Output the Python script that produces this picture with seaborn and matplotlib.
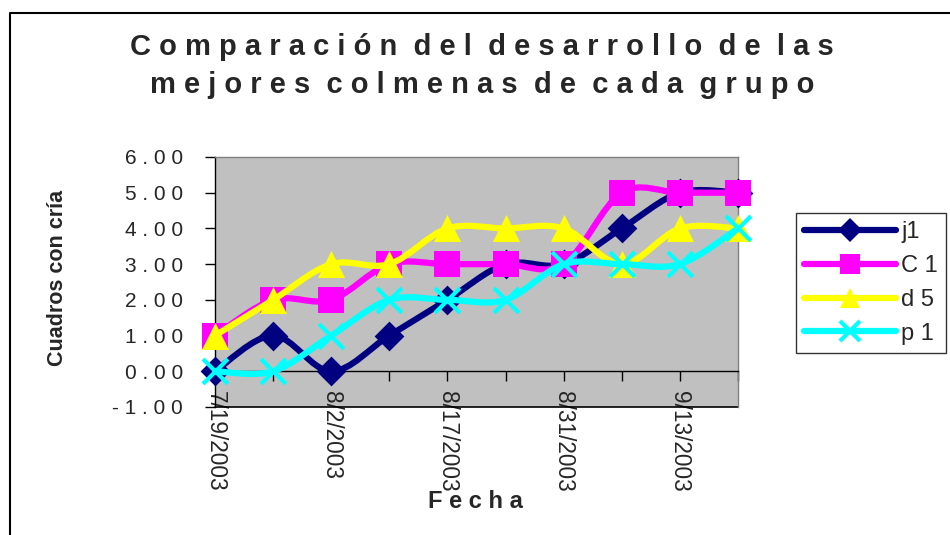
import numpy as np
import pandas as pd
import seaborn as sns
import matplotlib.pyplot as plt
from matplotlib.path import Path
from matplotlib.patches import PathPatch
from matplotlib.lines import Line2D
from matplotlib.ticker import FuncFormatter

# data
fechas = ["7/19/2003", "7/26/2003", "8/2/2003", "8/9/2003", "8/17/2003",
          "8/24/2003", "8/31/2003", "9/6/2003", "9/13/2003", "9/20/2003"]
series = ["j1", "C 1", "d 5", "p 1"]
j1 = [0, 1, 0, 1, 2, 3, 3, 4, 5, 5]
c1 = [1, 2, 2, 3, 3, 3, 3, 5, 5, 5]
d5 = [1, 2, 3, 3, 4, 4, 4, 3, 4, 4]
p1 = [0, 0, 1, 2, 2, 2, 3, 3, 3, 4]

colors = ["#000080", "#FF00FF", "#FFFF00", "#00FFFF"]
markers = ["D", "s", "^", "x"]
msizes = [230, 360, 380, 320]

df = pd.DataFrame({"idx": list(range(len(fechas))) * 4,
                   "fecha": fechas * 4,
                   "serie": np.repeat(series, len(fechas)),
                   "valor": j1 + c1 + d5 + p1})

sns.set_theme(style="white")
plt.rcParams["font.family"] = ["Liberation Sans", "DejaVu Sans"]

fig = plt.figure(figsize=(9.5, 5.35), dpi=100)
ax = fig.add_axes([215 / 950, 1 - 407 / 535, 523 / 950, 250 / 535])
ax.set_facecolor("#C0C0C0")
# category axis crosses at 0 (set before ticks, it resets them)
ax.spines["bottom"].set_position(("data", 0))


def smooth_path(xs, ys):
    # excel-style smoothed line drawn as cubic bezier segments
    pts = np.column_stack([xs, ys]).astype(float)
    n = len(pts)
    verts, codes = [pts[0]], [Path.MOVETO]
    for i in range(n - 1):
        p0 = pts[i - 1] if i > 0 else pts[i]
        p3 = pts[i + 2] if i + 2 < n else pts[i + 1]
        verts += [pts[i] + (pts[i + 1] - p0) / 6,
                  pts[i + 1] - (p3 - pts[i]) / 6,
                  pts[i + 1]]
        codes += [Path.CURVE4] * 3
    return Path(verts, codes)


for k, name in enumerate(series):
    sub = df[df["serie"] == name]
    ax.add_patch(PathPatch(smooth_path(sub["idx"], sub["valor"]), fill=False,
                           edgecolor=colors[k], lw=4.5, capstyle="round",
                           joinstyle="round", zorder=3 + 2 * k))
    kw = dict(linewidth=3) if markers[k] == "x" else dict(linewidth=0)
    sns.scatterplot(data=sub, x="idx", y="valor", ax=ax, marker=markers[k],
                    color=colors[k], s=msizes[k], legend=False,
                    zorder=4 + 2 * k, clip_on=False, **kw)

ax.set_xlim(0, len(fechas) - 1)
ax.set_ylim(-1, 6)
ax.set_yticks(range(-1, 7))
ax.yaxis.set_major_formatter(FuncFormatter(lambda v, p: " ".join(f"{v:.2f}")))
ax.set_xticks(range(len(fechas)))
ax.set_xticklabels([f if i % 2 == 0 else "" for i, f in enumerate(fechas)],
                   rotation=270, va="top", ha="center")
ax.set_xlabel("")
ax.set_ylabel("")

for s in ["top", "right"]:
    ax.spines[s].set_color("#808080")
    ax.spines[s].set_linewidth(1)
for s in ["left", "bottom"]:
    ax.spines[s].set_color("black")
    ax.spines[s].set_linewidth(1)
ax.axhline(-1, color="black", lw=1.2, clip_on=False, zorder=2)

ax.tick_params(axis="y", direction="out", length=7, width=1, color="black",
               labelsize=15, pad=16, left=True)
ax.tick_params(axis="x", direction="out", length=7, width=1, color="black",
               labelsize=16.3, pad=7, bottom=True)

fig.text(482 / 950, 1 - 47 / 535,
         "C o m p a r a c i ó n  d e l  d e s a r r o l l o  d e  l a s",
         ha="center", va="center", fontsize=21, fontweight="bold")
fig.text(482 / 950, 1 - 85 / 535,
         "m e j o r e s  c o l m e n a s  d e  c a d a  g r u p o",
         ha="center", va="center", fontsize=21, fontweight="bold")
fig.text(58 / 950, 1 - 278 / 535, "Cuadros con cría", rotation=90,
         ha="center", va="center", fontsize=15.5, fontweight="bold")
fig.text(475 / 950, 1 - 502 / 535, "F e c h a", ha="center", va="center",
         fontsize=17, fontweight="bold")

# chart border (only top and left visible in the crop)
fig.add_artist(Line2D([9.5 / 950, 9.5 / 950, 1], [0, 1 - 13 / 535, 1 - 13 / 535],
                      transform=fig.transFigure, color="black", lw=1.5))

handles = [Line2D([], [], color=colors[k], lw=4.5, marker=markers[k],
                  markersize=15 if markers[k] != "D" else 12,
                  markeredgewidth=3 if markers[k] == "x" else 0,
                  solid_capstyle="round")
           for k in range(len(series))]
leg = fig.legend(handles, series, loc="upper left",
                 bbox_to_anchor=(796 / 950, 1 - 213 / 535), fontsize=17,
                 frameon=True, fancybox=False, edgecolor="black",
                 handlelength=3.9, handletextpad=0.2, labelspacing=0.5,
                 borderpad=0.35, borderaxespad=0)
leg.get_frame().set_linewidth(1)

fig.savefig("out.png", dpi=100, facecolor="white")
